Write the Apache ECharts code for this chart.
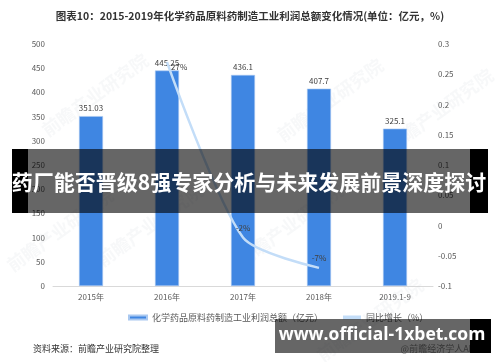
<!DOCTYPE html>
<html><head><meta charset="utf-8">
<script src="https://cdn.jsdelivr.net/npm/echarts@6/dist/echarts.min.js"></script>
<style>html,body{margin:0;padding:0;background:#fff}#c{width:500px;height:362px}</style>
</head><body><div id="c"></div>
<script>
var categories = ['2015年', '2016年', '2017年', '2018年', '2019.1-9'];
var profit = [351.03, 445.25, 436.1, 407.7, 325.1];
var growth = [null, 0.27, -0.02, -0.07, null];
var leftTicks = [0, 500, 50];
var rightTicks = [-0.1, 0.3, 0.05];
var seriesNames = ['化学药品原料药制造工业利润总额（亿元）', '同比增长（%）'];
var titleText = '图表10：2015-2019年化学药品原料药制造工业利润总额变化情况(单位：亿元，%)';
var bannerText = '药厂能否晋级8强专家分析与未来发展前景深度探讨';
var siteText = 'www.official-1xbet.com';
var sourceText = '资料来源：前瞻产业研究院整理';
var appText = '@前瞻经济学人APP';
var watermark = '前瞻产业研究院';

var chart = echarts.init(document.getElementById('c'), null, {renderer: 'canvas'});
var font = '"Microsoft YaHei","Noto Sans CJK SC",sans-serif';
var growthData = growth.map(function (v, i) {
  return {value: v, label: {show: true, position: i === 1 ? 'right' : 'top', offset: i === 1 ? [-2, 5] : [0, 0]}};
});
var wm = [];
[[95, 95], [330, 100], [150, 225], [290, 225], [440, 110], [370, 320], [60, 230]].forEach(function (p) {
  wm.push({type: 'text', x: p[0], y: p[1], rotation: Math.PI / 5, z: 1,
    style: {text: watermark, fill: 'rgba(200,205,215,0.14)', font: 'bold 18px ' + font, align: 'center', verticalAlign: 'middle'}});
});
chart.setOption({
  animation: false,
  textStyle: {fontFamily: font},
  title: {text: titleText, left: 'center', top: 6,
    textStyle: {fontSize: 10.5, fontWeight: 'bold', color: '#333'}},
  grid: {left: 53, right: 67, top: 44, bottom: 76},
  legend: {left: 123, top: 308, itemGap: 20, itemWidth: 18, itemHeight: 4,
    textStyle: {fontSize: 9, color: '#595959'},
    data: [{name: seriesNames[0], icon: 'rect'}, {name: seriesNames[1], icon: 'rect', itemStyle: {color: '#c3ddf8'}}]},
  xAxis: {type: 'category', data: categories,
    axisLine: {lineStyle: {color: '#d9d9d9'}}, axisTick: {show: false},
    axisLabel: {fontSize: 8, color: '#595959', margin: 7}},
  yAxis: [
    {type: 'value', min: leftTicks[0], max: leftTicks[1], interval: leftTicks[2],
      splitLine: {show: false}, axisLine: {show: false}, axisTick: {show: false},
      axisLabel: {fontSize: 8, color: '#595959', margin: 8}},
    {type: 'value', min: rightTicks[0], max: rightTicks[1], interval: rightTicks[2],
      splitLine: {show: false}, axisLine: {show: false}, axisTick: {show: false},
      axisLabel: {fontSize: 8, color: '#595959', margin: 5,
        formatter: function (v) { return String(Math.round(v * 100) / 100); }}}
  ],
  series: [
    {name: seriesNames[0], type: 'bar', data: profit, barWidth: 24, yAxisIndex: 0, z: 2,
      itemStyle: {color: '#3f86e2', borderColor: '#a9c8f0', borderWidth: 0.6},
      label: {show: true, position: 'top', fontSize: 8, color: '#404040', distance: 4}},
    {name: seriesNames[1], type: 'line', data: growthData, yAxisIndex: 1, smooth: 0.25, z: 3,
      symbol: 'circle', symbolSize: 2, showSymbol: true, connectNulls: false,
      lineStyle: {color: '#c3ddf8', width: 2.5},
      itemStyle: {color: 'rgba(0,0,0,0)'},
      label: {show: true, fontSize: 8, color: '#404040',
        formatter: function (p) { return Math.round(p.value * 100) + '%'; }}}
  ],
  graphic: wm.concat([
    {type: 'text', left: 33, top: 344, z: 10,
      style: {text: sourceText, fill: '#333', font: '9px ' + font}},
    {type: 'rect', shape: {x: 12, y: 149, width: 16, height: 64}, z: 100, style: {fill: '#000'}},
    {type: 'rect', shape: {x: 28, y: 149, width: 442, height: 64}, z: 100, style: {fill: 'rgba(0,0,0,0.6)'}},
    {type: 'rect', shape: {x: 470, y: 149, width: 18, height: 64}, z: 100, style: {fill: '#000'}},
    {type: 'text', x: 249, y: 182, z: 101,
      style: {text: bannerText, fill: '#fff', font: 'bold 21px ' + font, align: 'center', verticalAlign: 'middle'}},
    {type: 'text', x: 480, y: 349, z: 90,
      style: {text: appText, fill: '#888', font: '9px ' + font, align: 'right', verticalAlign: 'middle'}},
    {type: 'rect', shape: {x: 275, y: 319, width: 195, height: 34}, z: 100, style: {fill: 'rgba(0,0,0,0.6)'}},
    {type: 'rect', shape: {x: 470, y: 319, width: 21, height: 34}, z: 100, style: {fill: '#000'}},
    {type: 'text', x: 382, y: 335, z: 101,
      style: {text: siteText, fill: '#fff', font: 'bold 17.5px "Open Sans",sans-serif', align: 'center', verticalAlign: 'middle'}}
  ])
});
</script></body></html>
